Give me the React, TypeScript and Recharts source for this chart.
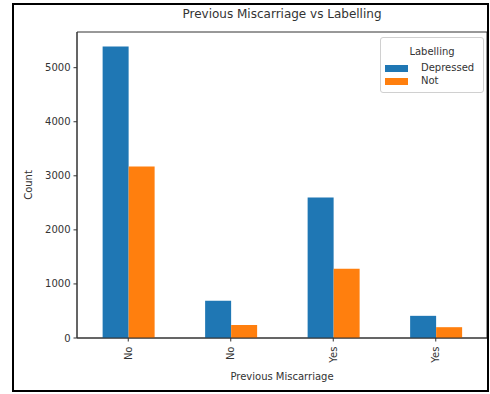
import React from 'react'
import {
  BarChart,
  Bar,
  XAxis,
  YAxis,
  ReferenceArea,
} from 'recharts'

const categories = ['No', 'No', 'Yes', 'Yes']
const depressed = [5390, 690, 2600, 410]
const notDepressed = [3170, 240, 1280, 200]
const yTicks = [0, 1000, 2000, 3000, 4000, 5000]
const seriesNames = ['Depressed', 'Not']

const BLUE = '#1f77b4'
const ORANGE = '#ff7f0e'
const INK = '#333'
const FONT = '"DejaVu Sans", sans-serif'

const data = categories.map((c, i) => ({
  key: `${c}-${i}`,
  label: c,
  Depressed: depressed[i],
  Not: notDepressed[i],
}))

function RotatedTick({ x, y, payload }: { x?: number; y?: number; payload?: { value: string } }) {
  const label = data.find(d => d.key === payload?.value)?.label ?? ''
  return (
    <text
      x={0}
      y={0}
      transform={`translate(${(x ?? 0) + 3.5},${(y ?? 0) + 3}) rotate(-90)`}
      textAnchor="end"
      fontSize={10}
      fill={INK}
      fontFamily={FONT}
    >
      {label}
    </text>
  )
}

function LegendBox() {
  const colors = [BLUE, ORANGE]
  return (
    <div
      style={{
        position: 'absolute',
        left: 380,
        top: 37,
        width: 104,
        height: 56,
        border: '1px solid #d0d0d0',
        borderRadius: 3,
        background: 'rgba(255,255,255,0.8)',
        fontFamily: FONT,
        fontSize: 10,
        color: INK,
        boxSizing: 'border-box',
      }}
    >
      <div style={{ position: 'absolute', top: 8, width: '100%', textAlign: 'center' }}>Labelling</div>
      {seriesNames.map((name, i) => (
        <div
          key={name}
          style={{ position: 'absolute', top: 25 + i * 13, left: 4, display: 'flex', alignItems: 'center' }}
        >
          <span style={{ display: 'inline-block', width: 23, height: 7, background: colors[i] }} />
          <span style={{ marginLeft: 13, lineHeight: '10px' }}>{name}</span>
        </div>
      ))}
    </div>
  )
}

export default function App() {
  return (
    <div style={{ position: 'fixed', left: 0, top: 0, width: 490, height: 394, background: '#fff' }}>
      <BarChart
        width={490}
        height={394}
        data={data}
        margin={{ top: 32, right: 3, left: 27, bottom: 0 }}
        barCategoryGap="25%"
        barGap={0}
        style={{ position: 'absolute', left: 0, top: 0 }}
      >
        <XAxis
          dataKey="key"
          height={56}
          tick={<RotatedTick />}
          tickSize={3.5}
          tickLine={{ stroke: INK }}
          axisLine={{ stroke: INK }}
          interval={0}
        />
        <YAxis
          width={50}
          domain={[0, 5660]}
          ticks={yTicks}
          allowDataOverflow
          tickSize={3.5}
          tickMargin={3}
          tickLine={{ stroke: INK }}
          axisLine={{ stroke: INK }}
          tick={{ fontSize: 10, fill: INK, fontFamily: FONT }}
        />
        <ReferenceArea y1={0} y2={5660} fill="none" stroke={INK} strokeWidth={1} />
        <Bar dataKey="Depressed" fill={BLUE} isAnimationActive={false} />
        <Bar dataKey="Not" fill={ORANGE} isAnimationActive={false} />
      </BarChart>
      <div
        style={{
          position: 'absolute',
          left: 12,
          top: 3,
          width: 477,
          height: 389,
          border: '2px solid #000',
          boxSizing: 'border-box',
          pointerEvents: 'none',
        }}
      />
      <div
        style={{
          position: 'absolute',
          left: 77,
          width: 410,
          top: 7,
          textAlign: 'center',
          fontFamily: FONT,
          fontSize: 12,
          color: INK,
        }}
      >
        Previous Miscarriage vs Labelling
      </div>
      <div
        style={{
          position: 'absolute',
          left: 77,
          width: 410,
          top: 371,
          textAlign: 'center',
          fontFamily: FONT,
          fontSize: 10,
          color: INK,
        }}
      >
        Previous Miscarriage
      </div>
      <div
        style={{
          position: 'absolute',
          left: 28,
          top: 185,
          transform: 'translate(-50%, -50%) rotate(-90deg)',
          fontFamily: FONT,
          fontSize: 10,
          color: INK,
        }}
      >
        Count
      </div>
      <LegendBox />
    </div>
  )
}
